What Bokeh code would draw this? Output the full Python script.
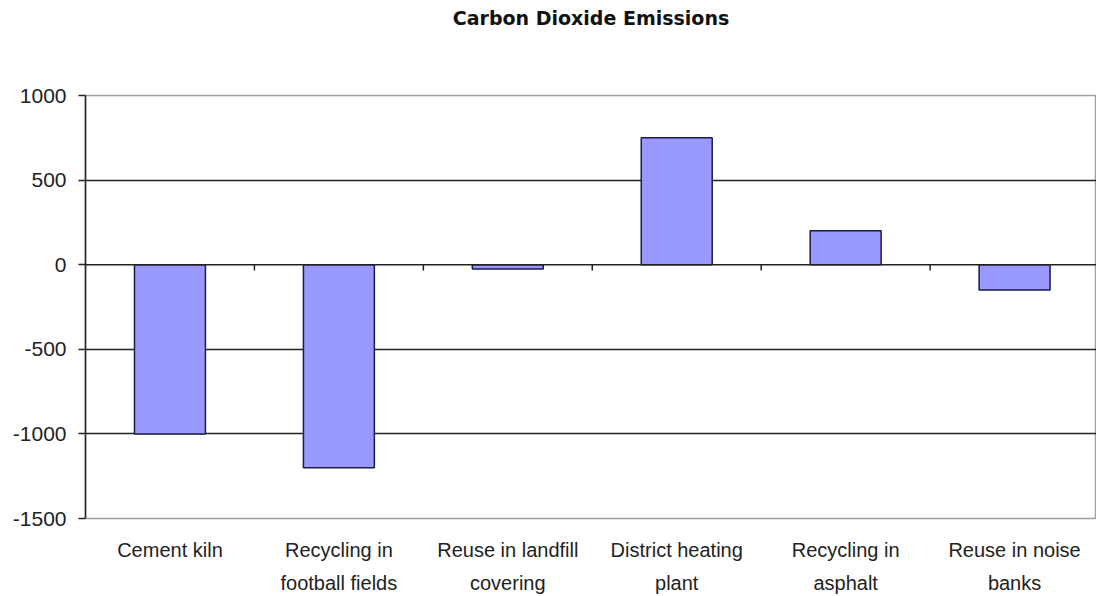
from bokeh.plotting import figure
from bokeh.models import FixedTicker, Span, Range1d, ColumnDataSource, LinearAxis
from bokeh.embed import file_html
from bokeh.resources import INLINE

# Data
title = "Carbon Dioxide Emissions"
categories = ["Cement kiln", "Recycling in\nfootball fields", "Reuse in landfill\ncovering",
              "District heating\nplant", "Recycling in\nasphalt", "Reuse in noise\nbanks"]
emissions = [-1000, -1200, -25, 750, 200, -150]
y_ticks = [-1500, -1000, -500, 0, 500, 1000]

n = len(categories)
centers = [i + 0.5 for i in range(n)]

p = figure(width=1096, height=596, output_backend="svg", toolbar_location=None,
           x_range=Range1d(0, 5.985), y_range=Range1d(-1500, 1000),
           min_border_left=85, min_border_right=0, min_border_top=95, min_border_bottom=76,
           background_fill_color="white", border_fill_color="white")
p.title = None

# keep handles on the default axes before any extra axis is added
xax = p.below[0]
yax = p.left[0]

p.outline_line_color = "#a0a0a0"
p.outline_line_width = 1.5

# chart title drawn as the label of a bare axis above the frame
top_axis = LinearAxis(ticker=FixedTicker(ticks=[]), axis_line_color=None,
                      major_tick_line_color=None, minor_tick_line_color=None,
                      major_tick_out=0, major_tick_in=0, minor_tick_out=0,
                      major_label_standoff=0, axis_label=title,
                      axis_label_standoff=67, axis_label_text_font="DejaVu Sans",
                      axis_label_text_font_size="19px", axis_label_text_font_style="bold",
                      axis_label_text_color="#111111")
p.add_layout(top_axis, "above")

# horizontal gridlines
p.xgrid.visible = False
p.ygrid.ticker = FixedTicker(ticks=[-1000, -500, 500])
p.ygrid.grid_line_color = "#222222"
p.ygrid.grid_line_width = 1.5

# bars
src = ColumnDataSource(dict(x=centers, top=emissions))
p.vbar(x="x", top="top", bottom=0, width=0.42, source=src,
       fill_color="#9999FF", line_color="#1c1c44", line_width=1.5)

# category axis line at zero with boundary ticks
p.add_layout(Span(location=0, dimension="width", line_color="#222222", line_width=1.5))
bounds = list(range(1, n))
p.segment(x0=bounds, x1=bounds, y0=[0] * len(bounds), y1=[-35] * len(bounds),
          line_color="#222222", line_width=1.5)

# y axis
yax.ticker = FixedTicker(ticks=y_ticks)
yax.major_label_overrides = {t: str(t) for t in y_ticks}
yax.axis_line_color = "#222222"
yax.axis_line_width = 1.5
yax.major_tick_line_color = "#222222"
yax.major_tick_line_width = 1.5
yax.major_tick_out = 7
yax.major_tick_in = 0
yax.minor_tick_line_color = None
yax.major_label_standoff = 12
yax.major_label_text_font = "Liberation Sans"
yax.major_label_text_font_size = "21px"
yax.major_label_text_color = "#222222"

# x axis (labels only)
xax.ticker = FixedTicker(ticks=centers)
xax.major_label_overrides = {c: lab for c, lab in zip(centers, categories)}
xax.axis_line_color = None
xax.major_tick_line_color = None
xax.minor_tick_line_color = None
xax.major_label_standoff = 14
xax.major_label_text_font = "Liberation Sans"
xax.major_label_text_font_size = "20px"
xax.major_label_text_color = "#222222"
xax.major_label_text_line_height = 1.5

open("out.html", "w").write(file_html(p, INLINE))
